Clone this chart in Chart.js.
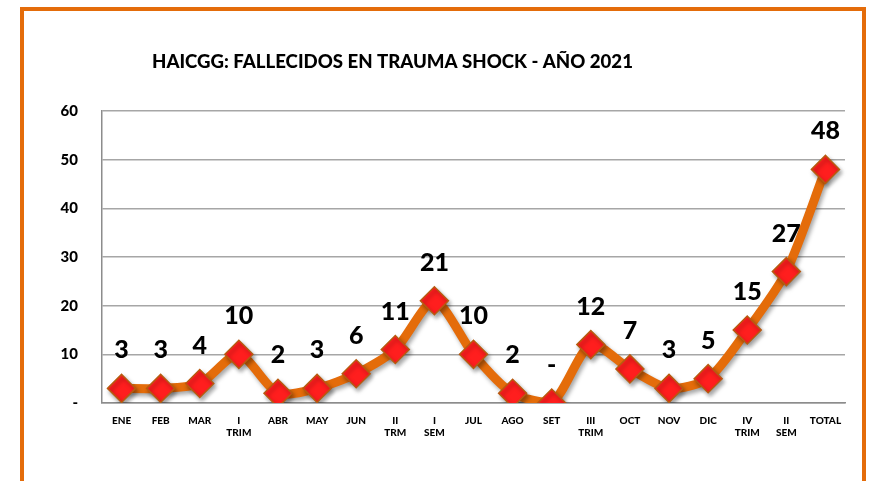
<!DOCTYPE html>
<html>
<head>
<meta charset="utf-8">
<script src="https://cdn.jsdelivr.net/npm/chart.js@4"></script>
<style>
  html, body { margin: 0; padding: 0; background: #fff; }
  #wrap { width: 876px; height: 481px; position: relative; }
</style>
</head>
<body>
<div id="wrap"><canvas id="chart" width="876" height="481"></canvas></div>
<script>
// chart data
var categories = [['ENE'], ['FEB'], ['MAR'], ['I', 'TRIM'], ['ABR'], ['MAY'], ['JUN'], ['II', 'TRM'], ['I', 'SEM'],
  ['JUL'], ['AGO'], ['SET'], ['III', 'TRIM'], ['OCT'], ['NOV'], ['DIC'], ['IV', 'TRIM'], ['II', 'SEM'], ['TOTAL']];
var fallecidos = [3, 3, 4, 10, 2, 3, 6, 11, 21, 10, 2, 0, 12, 7, 3, 5, 15, 27, 48];
var yTicks = [0, 10, 20, 30, 40, 50, 60];
var chartTitle = 'HAICGG: FALLECIDOS EN TRAUMA SHOCK - AÑO 2021';

var FONT = 'Lato, "Open Sans", sans-serif';

// orange frame + title
var framePlugin = {
  id: 'frame',
  beforeDraw: function (chart) {
    var ctx = chart.ctx;
    ctx.save();
    ctx.strokeStyle = '#E46C0A';
    ctx.lineWidth = 4;
    ctx.strokeRect(22, 9, 842, 500);
    ctx.restore();
  },
  afterDraw: function (chart) {
    var ctx = chart.ctx;
    ctx.save();
    var size = 16;
    ctx.font = '900 ' + size + 'px ' + FONT;
    var w = ctx.measureText(chartTitle).width;
    size = size * 481 / w;
    ctx.font = '900 ' + size + 'px ' + FONT;
    ctx.fillStyle = '#000';
    ctx.textAlign = 'left';
    ctx.textBaseline = 'middle';
    ctx.fillText(chartTitle, 152, 62);
    ctx.restore();
  }
};

// shadows under line and markers
var shadowPlugin = {
  id: 'shadow',
  beforeDatasetsDraw: function (chart) {
    var ctx = chart.ctx;
    ctx.save();
    ctx.shadowColor = 'rgba(0,0,0,0.35)';
    ctx.shadowOffsetX = 2;
    ctx.shadowOffsetY = 3;
    ctx.shadowBlur = 4;
  },
  afterDatasetsDraw: function (chart) {
    chart.ctx.restore();
  }
};

// values above points
var labelPlugin = {
  id: 'valueLabels',
  afterDatasetsDraw: function (chart) {
    var ctx = chart.ctx;
    var meta = chart.getDatasetMeta(0);
    ctx.save();
    ctx.font = '900 25px ' + FONT;
    ctx.fillStyle = '#000';
    ctx.textAlign = 'center';
    ctx.textBaseline = 'middle';
    meta.data.forEach(function (pt, i) {
      var v = fallecidos[i];
      ctx.fillText(v === 0 ? '-' : String(v), pt.x, pt.y - 38);
    });
    ctx.restore();
  }
};

var canvas = document.getElementById('chart');
var chart = new Chart(canvas, {
  type: 'line',
  data: {
    labels: categories,
    datasets: [{
      data: fallecidos,
      borderColor: '#E46C0A',
      borderWidth: 9,
      tension: 0.25,
      pointStyle: 'rectRot',
      pointRadius: 14,
      pointBackgroundColor: '#FF1E1E',
      pointBorderColor: '#B85A10',
      pointBorderWidth: 1.5
    }]
  },
  options: {
    responsive: false,
    animation: false,
    layout: { padding: { left: 0, right: 31, top: 111, bottom: 0 } },
    plugins: {
      legend: { display: false },
      tooltip: { enabled: false },
      title: { display: false }
    },
    scales: {
      x: {
        offset: true,
        grid: { display: false, drawTicks: false },
        border: { color: '#8C8C8C', width: 1.5 },
        ticks: {
          color: '#000',
          font: { family: FONT, weight: '900', size: 10 },
          padding: 12,
          maxRotation: 0,
          autoSkip: false
        },
        afterFit: function (scale) { scale.height = 78; }
      },
      y: {
        min: 0,
        max: 60,
        afterBuildTicks: function (scale) {
          scale.ticks = yTicks.map(function (v) { return { value: v }; });
        },
        grid: { color: '#A6A6A6', lineWidth: 1.5, drawTicks: false },
        border: { color: '#8C8C8C', width: 1.5 },
        ticks: {
          color: '#000',
          font: { family: FONT, weight: '900', size: 15 },
          padding: 24,
          callback: function (v) { return v === 0 ? '-' : v; }
        },
        afterFit: function (scale) { scale.width = 102; }
      }
    }
  },
  plugins: [framePlugin, shadowPlugin, labelPlugin]
});
</script>
</body>
</html>
